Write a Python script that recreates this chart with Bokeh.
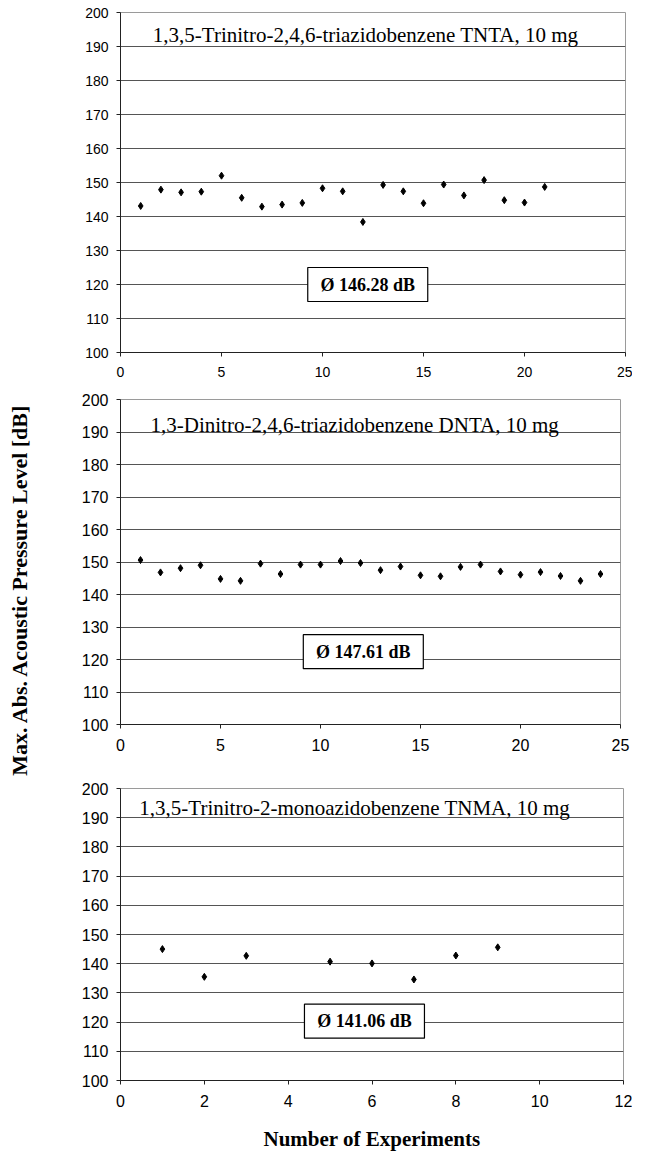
import math
from bokeh.plotting import figure
from bokeh.models import Label, Range1d, FixedTicker
from bokeh.layouts import row, column
from bokeh.core.properties import value
from bokeh.embed import file_html
from bokeh.resources import INLINE

# ---------------- data ----------------
tnta_x = list(range(1, 22))
tnta_y = [143.1, 147.9, 147.1, 147.3, 152.0, 145.5, 142.9, 143.5, 144.0, 148.3,
          147.4, 138.4, 149.3, 147.4, 143.9, 149.4, 146.2, 150.7, 144.8, 144.1, 148.7]
tnta_title = "1,3,5-Trinitro-2,4,6-triazidobenzene TNTA, 10 mg"
tnta_mean = "Ø 146.28 dB"

dnta_x = list(range(1, 25))
dnta_y = [150.6, 146.8, 148.1, 149.0, 144.8, 144.2, 149.5, 146.3, 149.2, 149.2,
          150.3, 149.7, 147.5, 148.6, 145.9, 145.6, 148.5, 149.2, 147.1, 146.1,
          146.9, 145.7, 144.2, 146.3]
dnta_title = "1,3-Dinitro-2,4,6-triazidobenzene DNTA, 10 mg"
dnta_mean = "Ø 147.61 dB"

tnma_x = [1, 2, 3, 5, 6, 7, 8, 9]
tnma_y = [145.0, 135.5, 142.7, 140.7, 140.1, 134.6, 142.8, 145.6]
tnma_title = "1,3,5-Trinitro-2-monoazidobenzene TNMA, 10 mg"
tnma_mean = "Ø 141.06 dB"

y_ticks = list(range(100, 201, 10))
x_ticks_25 = list(range(0, 26, 5))
x_ticks_12 = list(range(0, 13, 2))

y_label = "Max. Abs. Acoustic Pressure Level [dB]"
x_label = "Number of Experiments"

SERIF = "Liberation Serif"
SANS = "Liberation Sans"


def panel(xs, ys, xmax, xticks, title, mean_txt, fw, fh, bl, br, bt, bb,
          tick_size, title_pos, box_pos, xlabel=None):
    p = figure(frame_width=fw, frame_height=fh,
               x_range=Range1d(0, xmax), y_range=Range1d(100, 200),
               output_backend="svg", toolbar_location=None,
               min_border_left=bl, min_border_right=br,
               min_border_top=bt, min_border_bottom=bb)
    p.background_fill_color = "white"
    p.border_fill_color = "white"
    p.outline_line_color = "#9a9a9a"
    p.outline_line_width = 1
    p.xgrid.visible = False
    p.ygrid.grid_line_color = "#555555"
    p.ygrid.grid_line_width = 1
    p.yaxis.ticker = FixedTicker(ticks=y_ticks)
    p.xaxis.ticker = FixedTicker(ticks=xticks)
    for ax in (p.xaxis[0], p.yaxis[0]):
        ax.axis_line_color = "#222222"
        ax.major_tick_line_color = "#222222"
        ax.major_tick_in = 0
        ax.major_tick_out = 4
        ax.minor_tick_line_color = None
        ax.major_label_text_font = SANS
        ax.major_label_text_font_size = f"{tick_size}px"
        ax.major_label_text_color = "black"
    p.yaxis.major_label_standoff = 8
    p.xaxis.major_label_standoff = 10
    if xlabel:
        p.xaxis.axis_label = xlabel
        p.xaxis.axis_label_text_font = SERIF
        p.xaxis.axis_label_text_font_style = "bold"
        p.xaxis.axis_label_text_font_size = "21px"
        p.xaxis.axis_label_text_color = "black"
        p.xaxis.axis_label_standoff = 17

    p.scatter(xs, ys, marker="diamond", size=7, color="black")

    p.add_layout(Label(x=title_pos[0], y=title_pos[1], text=title,
                       text_font=SERIF, text_font_size="21px",
                       text_align="left", text_baseline="middle",
                       text_color="black"))
    p.rect(x=[box_pos[0]], y=[box_pos[1]], width=120, height=34,
           width_units="screen", height_units="screen",
           fill_color="white", line_color="black", line_width=1.2)
    p.text(x=[box_pos[0]], y=[box_pos[1]], text=[mean_txt],
           text_font=value(SERIF), text_font_style="bold",
           text_font_size="18px", text_align="center",
           text_baseline="middle", text_color="black")
    return p


p1 = panel(tnta_x, tnta_y, 25, x_ticks_25, tnta_title, tnta_mean,
           505, 340, 75, 12, 12, 32, 14, (1.6, 193.3), (12.24, 120.0))
p2 = panel(dnta_x, dnta_y, 25, x_ticks_25, dnta_title, dnta_mean,
           500, 325, 80, 12, 15, 38, 16, (1.5, 192.1), (12.14, 122.4))
p3 = panel(tnma_x, tnma_y, 12, x_ticks_12, tnma_title, tnma_mean,
           503, 292, 79, 10, 26, 60, 16, (0.45, 193.4), (5.82, 120.3),
           xlabel=x_label)

left = figure(frame_width=40, frame_height=1140,
              x_range=Range1d(0, 40), y_range=Range1d(0, 1140),
              output_backend="svg", toolbar_location=None,
              min_border_left=0, min_border_right=0,
              min_border_top=0, min_border_bottom=0)
left.axis.visible = False
left.grid.visible = False
left.outline_line_color = None
left.background_fill_color = "white"
left.border_fill_color = "white"
left.add_layout(Label(x=19, y=1140 - 589, text=y_label, angle=math.pi / 2,
                      text_font=SERIF, text_font_style="bold",
                      text_font_size="22px", text_align="center",
                      text_baseline="middle", text_color="black"))

layout = row(left, column(p1, p2, p3))

with open("out.html", "w") as f:
    f.write(file_html(layout, INLINE))
